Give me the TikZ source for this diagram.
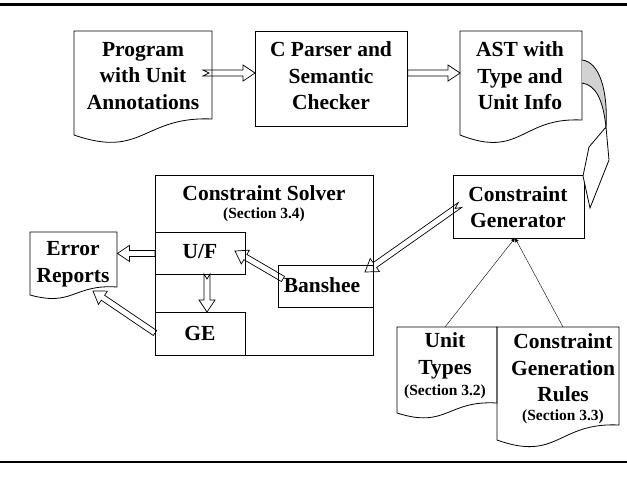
\documentclass[tikz,border=0pt]{standalone}
\usepackage{fontspec}
\setmainfont{Liberation Serif}
\usetikzlibrary{calc,arrows.meta}
\def\notch{0pt}
\newcommand\docpath[7]{%
  \draw[outl] (#1,#2) -- (#3,#2) -- (#3,#5)
    .. controls ({(#1+#3)/2},{#5-#6}) and ({(#1+#3)/2},{#4+#7}) .. (#1,#4) -- cycle;}
\begin{document}
\begin{tikzpicture}[x=1pt,y=-1pt,
  outl/.style={draw=black, line width=0.8pt},
  box/.style={outl, inner sep=0pt, anchor=north west},
  ghost/.style={inner sep=0pt, anchor=north west},
  big/.style={font=\fontsize{21.5}{26.5}\selectfont\bfseries, align=center, inner sep=0pt},
  small/.style={font=\fontsize{15.5}{19}\selectfont\bfseries, align=center, inner sep=0pt},
  tailnotch/.code={\def\notch{#1}},
  barrow/.style={draw=black, line width=0.7pt, line join=miter,
    to path={let \p1=(\tikztostart), \p2=(\tikztotarget),
      \n1={atan2(\y2-\y1,\x2-\x1)}, \n2={veclen(\x2-\x1,\y2-\y1)-12pt}
      in ($(\p1)+(\n1+90:3pt)$) -- ($(\p1)+(\n1+90:3pt)+(\n1:\n2)$)
      -- ($(\p1)+(\n1+90:8pt)+(\n1:\n2)$) -- (\p2)
      -- ($(\p1)+(\n1-90:8pt)+(\n1:\n2)$) -- ($(\p1)+(\n1-90:3pt)+(\n1:\n2)$)
      -- ($(\p1)+(\n1-90:3pt)$) -- ($(\p1)+(\n1:\notch)$) -- cycle}},
  thinl/.style={draw=black, line width=0.4pt, -{Latex[length=4pt,width=4pt]}}
]
\useasboundingbox (0,0) rectangle (627,485);
% rules
\draw[line width=3pt] (0,4.5) -- (627,4.5);
\draw[line width=2pt] (0,462) -- (627,462);

% documents (outline + named area)
\docpath{74}{31}{212}{135}{119}{3}{24}
\node[ghost, minimum width=138pt, minimum height=104pt] (prog) at (74,31) {};
\docpath{460}{31}{582}{135}{120}{3}{24}
\node[ghost, minimum width=122pt, minimum height=104pt] (ast) at (460,31) {};
\docpath{30}{232}{117}{295}{287}{3}{12}
\node[ghost, minimum width=87pt, minimum height=63pt] (err) at (30,232) {};
\docpath{397}{327}{497}{413}{403}{3}{16}
\node[ghost, minimum width=100pt, minimum height=86pt] (ut) at (397,327) {};
\docpath{497}{327}{619}{440}{425}{3}{22}
\node[ghost, minimum width=122pt, minimum height=113pt] (cgr) at (497,327) {};

% boxes
\node[box, minimum width=152pt, minimum height=95pt] (cpar) at (255,31) {};
\node[box, minimum width=218pt, minimum height=180pt] (solver) at (155,175) {};
\node[box, minimum width=90pt, minimum height=42pt] (uf) at (155,232) {};
\node[box, minimum width=90pt, minimum height=43pt] (ge) at (155,312) {};
\node[box, minimum width=95pt, minimum height=42pt] (ban) at (278,265) {};
\node[box, minimum width=131pt, minimum height=63pt] (cg) at (453,175) {};

% texts
\node[big] (tprog) at (143,76) {Program\\with Unit\\Annotations};
\node[big] (tcpar) at (331,76) {C Parser and\\Semantic\\Checker};
\node[big] (tast) at (520,76) {AST with\\Type and\\Unit Info};
\node[big] (tsolver) at (264,193) {Constraint Solver};
\node[small] (tsec4) at (264,215) {(Section 3.4)};
\node[big] (tuf) at (200,252) {U/F};
\node[big] (tge) at (200,333) {GE};
\node[big] (tban) at (322,285) {Banshee};
\node[big] (terr) at (73,264) {Error\\Reports};
\node[big] (tcg) at (518,207) {Constraint\\Generator};
\node[big] (tut) at (445,356) {Unit\\Types};
\node[small] (tsec2) at (445,392) {(Section 3.2)};
\node[big] (tcgr) at (563,368) {Constraint\\Generation\\Rules};
\node[small] (tsec3) at (563,417) {(Section 3.3)};

% arrow end points
\coordinate (a1t) at (203,73);
\coordinate (a1h) at (cpar.west |- a1t);
\coordinate (a2t) at (cpar.east |- a1t);
\coordinate (a2h) at (ast.west |- a2t);
\coordinate (a3t) at (uf.west);
\coordinate (a3h) at (err.east |- a3t);
\coordinate (a4t) at (207,274);
\coordinate (a4h) at (207,312);
\coordinate (a5t) at (155,333);
\coordinate (a5h) at (93,291);
\coordinate (a6t) at (283,279);
\coordinate (a6h) at (235,251);
\coordinate (a7t) at (460,205);
\coordinate (a7h) at (365,272);

\draw[barrow, tailnotch=6pt] (a1t) to (a1h);
\draw[barrow] (a2t) to (a2h);
\draw[barrow] (a3t) to (a3h);
\draw[barrow, tailnotch=5pt] (a4t) to (a4h);
\draw[barrow] (a5t) to (a5h);
\draw[barrow] (a6t) to (a6h);
\draw[barrow, tailnotch=6pt] (a7t) to (a7h);

% curved arrow from AST to Constraint Generator
\fill[gray!35] (582,60) .. controls (600,62) and (608,92) .. (606,127)
  .. controls (603,100) and (596,85) .. (582,83) -- cycle;
\draw[outl] (582,60) .. controls (600,62) and (608,92) .. (606,127);
\draw[outl] (582,83) .. controls (596,85) and (603,100) .. (606,127);
\draw[outl, fill=white] (606,127) -- (589,147) -- (583,176) -- (590,208) -- (609,160) -- cycle;

% inputs to the Constraint Generator
\coordinate (cgin) at (515,238);
\draw[thinl] (ut.north -| 445,0) -- (cgin);
\draw[thinl] (cgr.north -| 563,0) -- (cgin);
\end{tikzpicture}
\end{document}
